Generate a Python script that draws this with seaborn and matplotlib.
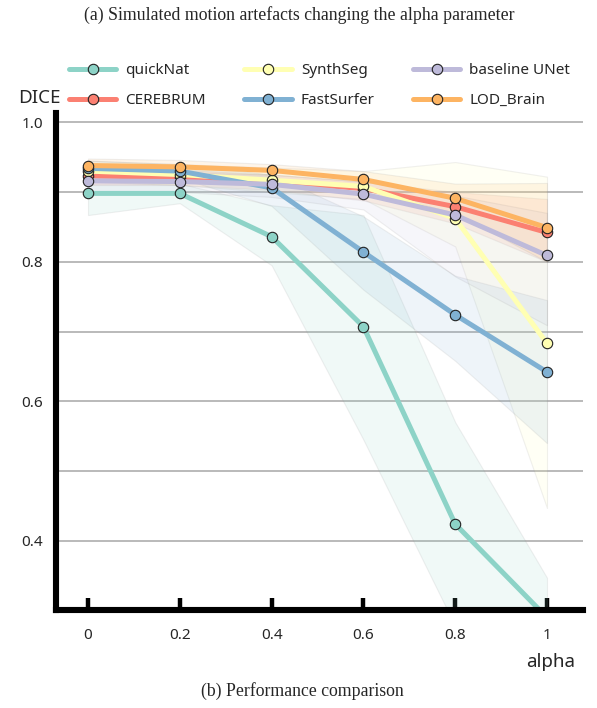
import numpy as np
import pandas as pd
import matplotlib
matplotlib.use("Agg")
import matplotlib.pyplot as plt
import seaborn as sns

# ---- data ----
alpha_vals = [0.0, 0.2, 0.4, 0.6, 0.8, 1.0]
models = ["quickNat", "CEREBRUM", "SynthSeg", "FastSurfer", "baseline UNet", "LOD_Brain"]
colors = ["#8dd3c7", "#fb8072", "#ffffb3", "#80b1d3", "#bebada", "#fdb462"]

quicknat_mean = [0.898, 0.898, 0.836, 0.707, 0.424, 0.290]
quicknat_lo = [0.867, 0.884, 0.795, 0.545, 0.278, 0.200]
quicknat_hi = [0.912, 0.912, 0.881, 0.867, 0.570, 0.347]

cerebrum_mean = [0.923, 0.921, 0.915, 0.905, 0.879, 0.842]
cerebrum_lo = [0.910, 0.910, 0.903, 0.888, 0.855, 0.800]
cerebrum_hi = [0.935, 0.932, 0.925, 0.915, 0.900, 0.890]

synthseg_mean = [0.930, 0.925, 0.917, 0.908, 0.862, 0.683]
synthseg_lo = [0.915, 0.910, 0.900, 0.890, 0.822, 0.447]
synthseg_hi = [0.945, 0.940, 0.935, 0.930, 0.943, 0.922]

fastsurfer_mean = [0.934, 0.930, 0.906, 0.814, 0.724, 0.642]
fastsurfer_lo = [0.925, 0.920, 0.880, 0.760, 0.658, 0.540]
fastsurfer_hi = [0.945, 0.940, 0.925, 0.865, 0.780, 0.745]

unet_mean = [0.916, 0.915, 0.911, 0.897, 0.867, 0.809]
unet_lo = [0.900, 0.900, 0.893, 0.875, 0.779, 0.709]
unet_hi = [0.930, 0.928, 0.925, 0.915, 0.895, 0.870]

lod_mean = [0.938, 0.936, 0.931, 0.918, 0.891, 0.849]
lod_lo = [0.928, 0.926, 0.918, 0.903, 0.870, 0.800]
lod_hi = [0.948, 0.946, 0.940, 0.930, 0.912, 0.913]

x_ticks = [0, 0.2, 0.4, 0.6, 0.8, 1.0]
x_ticklabels = ["0", "0.2", "0.4", "0.6", "0.8", "1"]
y_ticks = [0.4, 0.6, 0.8, 1.0]
y_ticklabels = ["0.4", "0.6", "0.8", "1.0"]
y_grid = [0.4, 0.5, 0.6, 0.7, 0.8, 0.9, 1.0]

means = [quicknat_mean, cerebrum_mean, synthseg_mean, fastsurfer_mean, unet_mean, lod_mean]
los = [quicknat_lo, cerebrum_lo, synthseg_lo, fastsurfer_lo, unet_lo, lod_lo]
his = [quicknat_hi, cerebrum_hi, synthseg_hi, fastsurfer_hi, unet_hi, lod_hi]

rows = []
for m, vals in zip(models, means):
    for a, v in zip(alpha_vals, vals):
        rows.append({"alpha": a, "DICE": v, "model": m})
df = pd.DataFrame(rows)

# ---- style ----
sns.set_style("white")
plt.rcParams["font.family"] = ["Noto Sans", "DejaVu Sans"]

fig = plt.figure(figsize=(5.97, 7.08), dpi=100)
ax = fig.add_axes([55.5 / 597, 1 - 610 / 708, (583 - 55.5) / 597, (610 - 112.5) / 708])

# bands
for c, lo, hi in zip(colors, los, his):
    ax.fill_between(alpha_vals, lo, hi, facecolor=c, alpha=0.13,
                    edgecolor=(0.55, 0.55, 0.55, 0.18), linewidth=0.8, zorder=1)

sns.lineplot(data=df, x="alpha", y="DICE", hue="model", hue_order=models,
             palette=colors, errorbar=None, ax=ax, linewidth=3.6,
             marker="o", markersize=7.5, markeredgecolor="#222222",
             markeredgewidth=0.8, legend=False, zorder=3)

ax.set_xlim(-0.0708, 1.0784)
ax.set_ylim(0.3008, 1.014)

for gy in y_grid:
    ax.axhline(gy, color="#b4b4b4", linewidth=1.3, zorder=0.5)

ax.set_xticks(x_ticks)
ax.set_xticklabels(x_ticklabels)
ax.set_yticks(y_ticks)
ax.set_yticklabels(y_ticklabels)
ax.tick_params(axis="x", bottom=True, direction="in", length=8.5, width=3.2,
               color="black", labelsize=11, pad=13)
ax.tick_params(axis="y", left=False, length=0, labelsize=11, pad=9)
ax.set_xlabel("")
ax.set_ylabel("")

for s in ["top", "right"]:
    ax.spines[s].set_visible(False)
for s in ["left", "bottom"]:
    ax.spines[s].set_color("black")
    ax.spines[s].set_linewidth(4.4)
    ax.spines[s].set_zorder(5)

handles = ax.lines[:len(models)]
fig.legend(handles, models, loc="upper left", bbox_to_anchor=(69 / 597, 1 - 63 / 708),
           ncol=3, frameon=False, fontsize=11, handlelength=3.1,
           handletextpad=0.6, columnspacing=2.5, labelspacing=0.98,
           borderaxespad=0, borderpad=0)

fig.text(18 / 597, 1 - 98 / 708, "DICE", ha="left", va="center", fontsize=13.5)
fig.text(551 / 597, 1 - 662 / 708, "alpha", ha="center", va="center", fontsize=13.5)

fig.text(299.5 / 597, 1 - 15 / 708, "(a) Simulated motion artefacts changing the alpha parameter",
         ha="center", va="center", fontsize=12.75, family=["Liberation Serif", "DejaVu Serif"])
fig.text(302 / 597, 1 - 691 / 708, "(b) Performance comparison",
         ha="center", va="center", fontsize=12.75, family=["Liberation Serif", "DejaVu Serif"])

fig.savefig("out.png", dpi=100)
